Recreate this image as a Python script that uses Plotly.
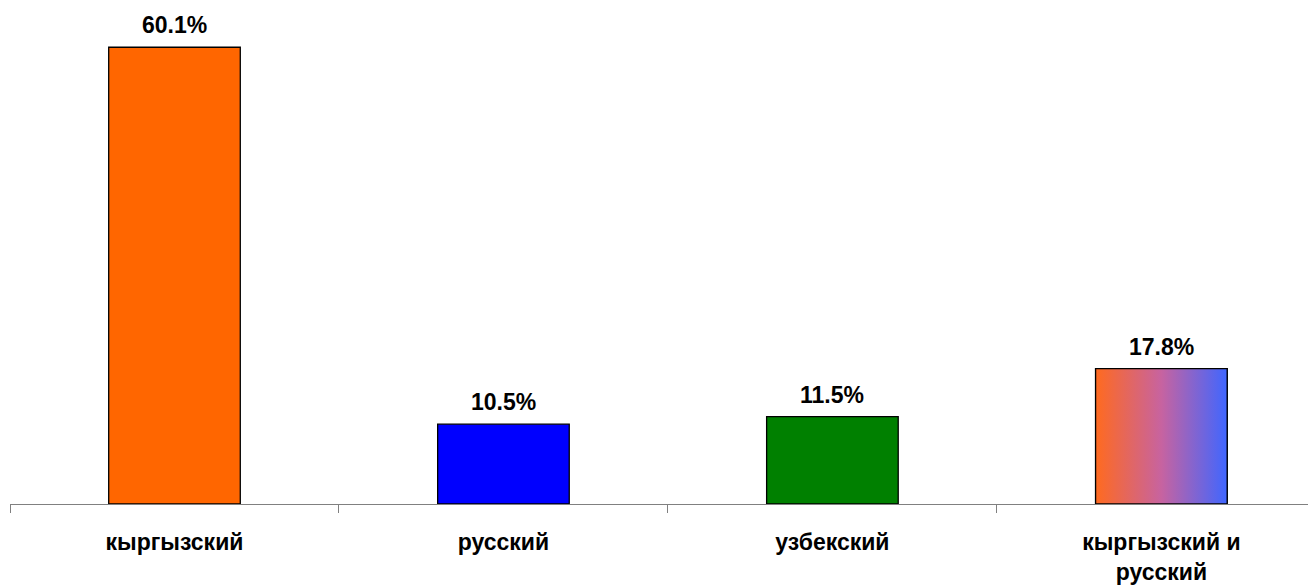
import plotly.graph_objects as go

categories = ["кыргызский", "русский", "узбекский", "кыргызский и<br>русский"]
values = [60.1, 10.5, 11.5, 17.8]
bar_colors = ["#FF6600", "#0000FF", "#008000", "rgba(0,0,0,0)"]
gradient_scale = [[0.0, "#FF6A1F"], [0.5, "#C763A0"], [1.0, "#3F66FF"]]
bar_width = 0.4
gradient_index = 3

FONT = "Liberation Sans, Arial, sans-serif"
FS = 23

fig = go.Figure()
fig.add_trace(go.Bar(
    x=categories, y=values, width=bar_width,
    marker=dict(color=bar_colors, line=dict(color="black", width=1.3)),
    hoverinfo="skip", showlegend=False,
))

# gradient-filled bar, drawn on a hidden linear overlay axis
i = gradient_index
v = values[i]
xs = [i - bar_width / 2, i + bar_width / 2, i + bar_width / 2, i - bar_width / 2, i - bar_width / 2]
ys = [0, 0, v, v, 0]
fig.add_trace(go.Scatter(
    x=xs, y=ys, xaxis="x2", mode="lines", fill="toself",
    fillgradient=dict(type="horizontal", colorscale=gradient_scale),
    line=dict(color="black", width=1.3), hoverinfo="skip", showlegend=False,
))

for c, val in zip(categories, values):
    fig.add_annotation(
        x=c, y=val, text=f"{val}%", showarrow=False, yanchor="bottom", yshift=7,
        font=dict(family=FONT, size=FS, color="black", weight="bold"),
    )

xr = [-0.5, 3.47]
fig.update_layout(
    width=1308, height=578,
    margin=dict(l=2, r=0, t=2, b=82),
    paper_bgcolor="white", plot_bgcolor="white",
    xaxis=dict(
        type="category", range=xr, tickson="boundaries", ticks="outside",
        ticklen=8, tickcolor="#808080", tickwidth=1,
        showline=True, linecolor="#808080", linewidth=1, showgrid=False,
        tickfont=dict(family=FONT, size=FS, color="black", weight="bold"),
        ticklabelstandoff=17,
    ),
    xaxis2=dict(overlaying="x", range=xr, visible=False, type="linear"),
    yaxis=dict(range=[0, 65], visible=False),
)

fig.write_html("out.html")
